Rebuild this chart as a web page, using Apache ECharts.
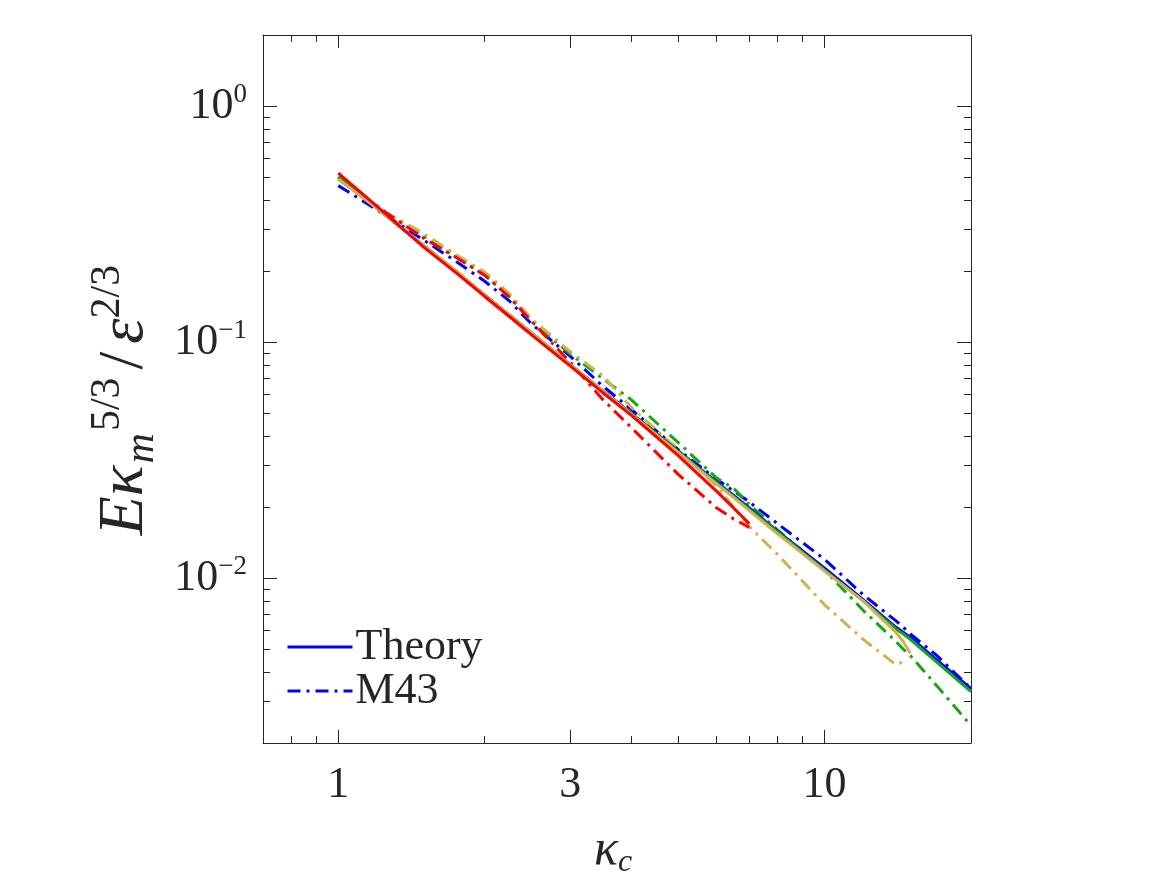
<!DOCTYPE html>
<html>
<head>
<meta charset="utf-8">
<script src="https://cdn.jsdelivr.net/npm/echarts@6/dist/echarts.min.js"></script>
<style>
  html, body { margin: 0; padding: 0; background: #fff; }
  #chart { width: 1167px; height: 875px; }
</style>
</head>
<body>
<div id="chart"></div>
<script>
// kappa_c sample points
var kc = [1, 1.25, 1.5, 1.75, 2, 2.25, 2.5, 3, 3.5, 4, 5, 6, 6.5, 7, 8, 10, 12, 14, 14.5, 15, 17, 20];

// Theory (solid)
var theoryBlue  = [0.50, 0.345, 0.255, 0.198, 0.158, 0.130, 0.109, 0.080, 0.062, 0.050, 0.0345, 0.0255, 0.0224, 0.0198, 0.0158, 0.0110, 0.0081, 0.0062, 0.0059, 0.0056, 0.0045, 0.0034];
var theoryGreen = [0.50, 0.345, 0.256, 0.199, 0.158, 0.130, 0.109, 0.080, 0.062, 0.0498, 0.0343, 0.0253, 0.0222, 0.0196, 0.0157, 0.0108, 0.0080, 0.0061, 0.0058, 0.0055, 0.0044, 0.0033];
var theoryGold  = [0.49, 0.345, 0.256, 0.199, 0.158, 0.130, 0.109, 0.080, 0.062, 0.0495, 0.0340, 0.0250, 0.0219, 0.0193, 0.0154, 0.0107, 0.0080, 0.0059, 0.0054, 0.0048, null, null];
var theoryRed   = [0.52, 0.350, 0.252, 0.196, 0.156, 0.128, 0.107, 0.079, 0.061, 0.049, 0.0330, 0.0233, 0.0198, 0.0170, null, null, null, null, null, null, null, null];

// M43 (dash-dot)
var m43Blue  = [0.46, 0.345, 0.270, 0.219, 0.181, 0.149, 0.119, 0.087, 0.065, 0.052, 0.0350, 0.0262, 0.0234, 0.0210, 0.0170, 0.0120, 0.0085, 0.0066, 0.0062, 0.0058, 0.0047, 0.0034];
var m43Green = [0.49, 0.352, 0.280, 0.228, 0.192, 0.155, 0.122, 0.089, 0.070, 0.057, 0.0375, 0.0265, 0.0240, 0.0205, 0.0160, 0.0108, 0.0073, 0.0054, 0.0050, 0.0047, 0.0035, 0.00237];
var m43Gold  = [0.49, 0.355, 0.288, 0.234, 0.198, 0.160, 0.125, 0.091, 0.072, 0.053, 0.0350, 0.0245, 0.0200, 0.0165, 0.0126, 0.0077, 0.0055, 0.0043, 0.0044, null, null, null];
var m43Red   = [0.50, 0.355, 0.275, 0.228, 0.192, 0.155, 0.122, 0.082, 0.057, 0.0435, 0.0275, 0.0198, 0.0178, 0.0164, null, null, null, null, null, null, null, null];

// ticks
var xMajor = [1, 3, 10];
var xMinor = [0.8, 0.9, 2, 4, 5, 6, 7, 8, 9, 20];
var yMajor = [0.01, 0.1, 1];
var yMinor = [0.003, 0.004, 0.005, 0.006, 0.007, 0.008, 0.009,
              0.02, 0.03, 0.04, 0.05, 0.06, 0.07, 0.08, 0.09,
              0.2, 0.3, 0.4, 0.5, 0.6, 0.7, 0.8, 0.9, 2];

var FONT = 'Liberation Serif';
var INK = '#262626';
var RED = '#ff0000', GOLD = '#d4b150', GREEN = '#14a914', BLUE = '#0000ff';
var DASHDOT = [13, 6, 3, 6];

function pts(arr) {
    var out = [];
    for (var i = 0; i < kc.length; i++) {
        if (arr[i] != null) out.push([kc[i], arr[i]]);
    }
    return out;
}

// one log axis, used several times to get the box with inner ticks
function logAxis(pos, min, max, ticks, len, line, labels) {
    var a = {
        type: 'log',
        logBase: 10,
        position: pos,
        min: min,
        max: max,
        axisLine: {show: line, onZero: false, lineStyle: {color: INK, width: 1}},
        axisTick: {show: true, inside: true, length: len, customValues: ticks, lineStyle: {color: INK, width: 1}},
        axisLabel: {show: false},
        splitLine: {show: false},
        minorTick: {show: false}
    };
    if (labels) a.axisLabel = labels;
    return a;
}

var xLabels = {
    show: true,
    customValues: xMajor,
    margin: 20,
    color: INK,
    fontFamily: FONT,
    fontSize: 44,
    formatter: function (v) { return String(Math.round(v)); }
};
var yLabels = {
    show: true,
    customValues: yMajor,
    margin: 16,
    color: INK,
    formatter: function (v) {
        var e = Math.round(Math.log10(v));
        return '{b|10}{s|' + (e < 0 ? '\u2212' + (-e) : e) + '}';
    },
    rich: {
        b: {fontFamily: FONT, fontSize: 44, lineHeight: 50, color: INK},
        s: {fontFamily: FONT, fontSize: 27, lineHeight: 28, verticalAlign: 'top', color: INK}
    }
};

var xMin = 0.7, xMax = 20, yMin = 0.002, yMax = 2;

var xAxes = [
    logAxis('bottom', xMin, xMax, xMajor, 13, true, xLabels),
    logAxis('bottom', xMin, xMax, xMinor, 7, false),
    logAxis('top', xMin, xMax, xMajor, 13, true),
    logAxis('top', xMin, xMax, xMinor, 7, false)
];
xAxes[0].name = '{i|\u03ba}{sub|c}';
xAxes[0].nameLocation = 'middle';
xAxes[0].nameGap = 80;
xAxes[0].nameTextStyle = {
    padding: [0, 8, 0, 0],
    rich: {
        i: {fontFamily: FONT, fontStyle: 'italic', fontSize: 50, lineHeight: 56, color: INK},
        sub: {fontFamily: FONT, fontStyle: 'italic', fontSize: 32, lineHeight: 30, verticalAlign: 'bottom', color: INK}
    }
};

var yAxes = [
    logAxis('left', yMin, yMax, yMajor, 14, true, yLabels),
    logAxis('left', yMin, yMax, yMinor, 7, false),
    logAxis('right', yMin, yMax, yMajor, 14, true),
    logAxis('right', yMin, yMax, yMinor, 7, false)
];
yAxes[0].name = '{i|E\u03ba}{sub|m}{sup|5/3}{sl|/}{i|\u03b5}{sup|2/3}';
yAxes[0].nameLocation = 'middle';
yAxes[0].nameGap = 92;
yAxes[0].nameTextStyle = {
    padding: [0, 22, 0, 0],
    rich: {
        i: {fontFamily: FONT, fontStyle: 'italic', fontSize: 64, lineHeight: 76, color: INK},
        sl: {fontFamily: FONT, fontSize: 64, lineHeight: 76, color: INK, padding: [0, 8, 0, 8]},
        sub: {fontFamily: FONT, fontStyle: 'italic', fontSize: 42, lineHeight: 40, verticalAlign: 'bottom', color: INK, padding: [0, 2, 0, 2]},
        sup: {fontFamily: FONT, fontSize: 42, lineHeight: 40, verticalAlign: 'top', color: INK}
    }
};

function line(name, arr, color, dashed) {
    return {
        name: name,
        type: 'line',
        data: pts(arr),
        symbol: 'none',
        smooth: false,
        silent: true,
        lineStyle: {color: color, width: 3, type: dashed ? DASHDOT : 'solid'},
        itemStyle: {color: color}
    };
}

var chart = echarts.init(document.getElementById('chart'), null, {renderer: 'canvas'});
chart.setOption({
    backgroundColor: '#ffffff',
    animation: false,
    grid: {left: 263, top: 35, right: 196, bottom: 132, containLabel: false, outerBoundsMode: 'none'},
    legend: {
        data: ['Theory', 'M43'],
        orient: 'vertical',
        left: 281,
        top: 620,
        itemWidth: 65,
        itemHeight: 14,
        itemGap: 0,
        itemStyle: {opacity: 0},
        lineStyle: {width: 3},
        textStyle: {fontFamily: FONT, fontSize: 44, lineHeight: 44, color: INK, padding: [0, 0, 0, -2]},
        selectedMode: false
    },
    xAxis: xAxes,
    yAxis: yAxes,
    series: [
        line('M43', m43Blue, BLUE, true),
        line('M43 green', m43Green, GREEN, true),
        line('M43 gold', m43Gold, GOLD, true),
        line('M43 red', m43Red, RED, true),
        line('Theory', theoryBlue, BLUE, false),
        line('Theory green', theoryGreen, GREEN, false),
        line('Theory gold', theoryGold, GOLD, false),
        line('Theory red', theoryRed, RED, false)
    ]
});
</script>
</body>
</html>
